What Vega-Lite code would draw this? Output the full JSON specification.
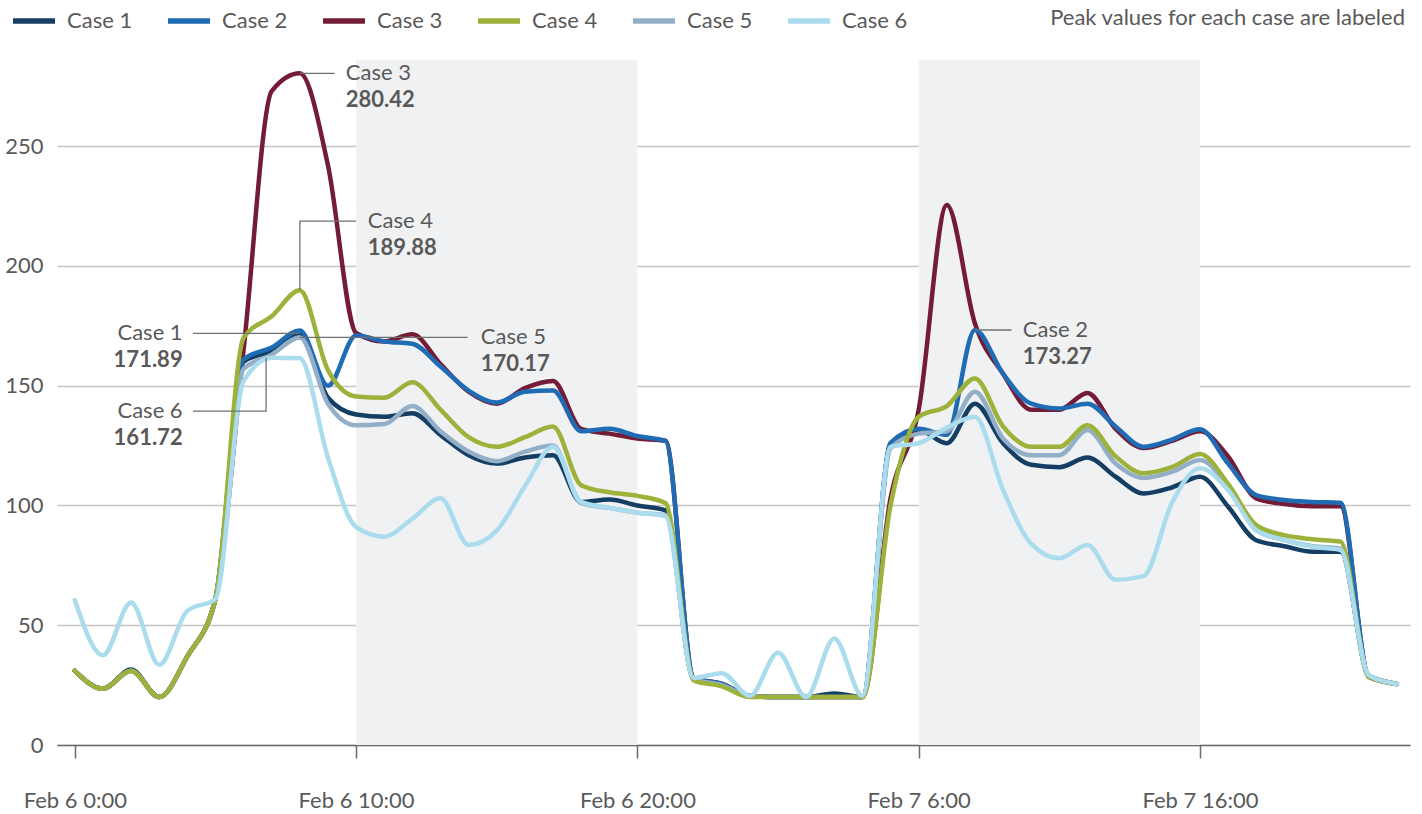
{
"$schema":"https://vega.github.io/schema/vega-lite/v6.json",
"autosize":{"type":"none"},
"width":1353,"height":685,
"padding":{"left":57,"top":60,"right":12,"bottom":69},
"background":"white",
"title":{"text":"Peak values for each case are labeled","anchor":"end","frame":"group","orient":"top","offset":-33,"dx":-5,"font":"Lato","fontSize":22,"fontWeight":"normal","color":"#595959"},
"config":{"view":{"stroke":null},"font":"Lato"},
"datasets":{
"bands":[{"s":"2023-02-06T10:00","e":"2023-02-06T20:00"},{"s":"2023-02-07T06:00","e":"2023-02-07T16:00"}],
"leaders":[
{"g":"c3","o":0,"t":"2023-02-06T08:00","v":280.42},{"g":"c3","o":1,"t":"2023-02-06T09:14","v":280.42},
{"g":"c4","o":0,"t":"2023-02-06T08:00","v":189.88},{"g":"c4","o":1,"t":"2023-02-06T08:00","v":218.7},{"g":"c4","o":2,"t":"2023-02-06T10:00","v":218.7},
{"g":"c1","o":0,"t":"2023-02-06T08:00","v":171.89},{"g":"c1","o":1,"t":"2023-02-06T04:12","v":171.89},
{"g":"c5","o":0,"t":"2023-02-06T08:00","v":170.17},{"g":"c5","o":1,"t":"2023-02-06T13:58","v":170.17},
{"g":"c6","o":0,"t":"2023-02-06T06:48","v":161.72},{"g":"c6","o":1,"t":"2023-02-06T06:48","v":139.4},{"g":"c6","o":2,"t":"2023-02-06T04:12","v":139.4},
{"g":"c2","o":0,"t":"2023-02-07T08:00","v":173.27},{"g":"c2","o":1,"t":"2023-02-07T09:18","v":173.27}
],
"labels":[
{"name":"Case 3","val":"280.42","t":"2023-02-06T09:38","v":280.42,"side":"L"},
{"name":"Case 4","val":"189.88","t":"2023-02-06T10:25","v":218.7,"side":"L"},
{"name":"Case 5","val":"170.17","t":"2023-02-06T14:26","v":170.17,"side":"L"},
{"name":"Case 2","val":"173.27","t":"2023-02-07T09:42","v":173.27,"side":"L"},
{"name":"Case 1","val":"171.89","t":"2023-02-06T03:50","v":171.89,"side":"R"},
{"name":"Case 6","val":"161.72","t":"2023-02-06T03:50","v":139.4,"side":"R"}
],
"series":[
{"t":"2023-02-06T00:00","c":"Case 1","v":31},{"t":"2023-02-06T01:00","c":"Case 1","v":23.5},{"t":"2023-02-06T02:00","c":"Case 1","v":31.5},{"t":"2023-02-06T03:00","c":"Case 1","v":20},{"t":"2023-02-06T04:00","c":"Case 1","v":37},{"t":"2023-02-06T05:00","c":"Case 1","v":61},{"t":"2023-02-06T06:00","c":"Case 1","v":160},{"t":"2023-02-06T07:00","c":"Case 1","v":164.5},{"t":"2023-02-06T08:00","c":"Case 1","v":171.89},{"t":"2023-02-06T09:00","c":"Case 1","v":145},{"t":"2023-02-06T10:00","c":"Case 1","v":138},{"t":"2023-02-06T11:00","c":"Case 1","v":137},{"t":"2023-02-06T12:00","c":"Case 1","v":138.5},{"t":"2023-02-06T13:00","c":"Case 1","v":129.5},{"t":"2023-02-06T14:00","c":"Case 1","v":121},{"t":"2023-02-06T15:00","c":"Case 1","v":117.5},{"t":"2023-02-06T16:00","c":"Case 1","v":120},{"t":"2023-02-06T17:00","c":"Case 1","v":121},{"t":"2023-02-06T18:00","c":"Case 1","v":101.5},{"t":"2023-02-06T19:00","c":"Case 1","v":102.5},{"t":"2023-02-06T20:00","c":"Case 1","v":100},{"t":"2023-02-06T21:00","c":"Case 1","v":98},{"t":"2023-02-06T22:00","c":"Case 1","v":27.5},{"t":"2023-02-06T23:00","c":"Case 1","v":25.5},
{"t":"2023-02-07T00:00","c":"Case 1","v":20.5},{"t":"2023-02-07T01:00","c":"Case 1","v":20},{"t":"2023-02-07T02:00","c":"Case 1","v":20},{"t":"2023-02-07T03:00","c":"Case 1","v":21.5},{"t":"2023-02-07T04:00","c":"Case 1","v":20},{"t":"2023-02-07T05:00","c":"Case 1","v":126},{"t":"2023-02-07T06:00","c":"Case 1","v":131.5},{"t":"2023-02-07T07:00","c":"Case 1","v":126},{"t":"2023-02-07T08:00","c":"Case 1","v":142.5},{"t":"2023-02-07T09:00","c":"Case 1","v":126},{"t":"2023-02-07T10:00","c":"Case 1","v":117},{"t":"2023-02-07T11:00","c":"Case 1","v":116},{"t":"2023-02-07T12:00","c":"Case 1","v":120},{"t":"2023-02-07T13:00","c":"Case 1","v":112},{"t":"2023-02-07T14:00","c":"Case 1","v":105},{"t":"2023-02-07T15:00","c":"Case 1","v":107.5},{"t":"2023-02-07T16:00","c":"Case 1","v":112},{"t":"2023-02-07T17:00","c":"Case 1","v":99.5},{"t":"2023-02-07T18:00","c":"Case 1","v":85.5},{"t":"2023-02-07T19:00","c":"Case 1","v":83},{"t":"2023-02-07T20:00","c":"Case 1","v":80.7},{"t":"2023-02-07T21:00","c":"Case 1","v":80.7},{"t":"2023-02-07T22:00","c":"Case 1","v":29},{"t":"2023-02-07T23:00","c":"Case 1","v":25.5},
{"t":"2023-02-06T00:00","c":"Case 3","v":31},{"t":"2023-02-06T01:00","c":"Case 3","v":23.5},{"t":"2023-02-06T02:00","c":"Case 3","v":31},{"t":"2023-02-06T03:00","c":"Case 3","v":20},{"t":"2023-02-06T04:00","c":"Case 3","v":37},{"t":"2023-02-06T05:00","c":"Case 3","v":61},{"t":"2023-02-06T06:00","c":"Case 3","v":165},{"t":"2023-02-06T07:00","c":"Case 3","v":273},{"t":"2023-02-06T08:00","c":"Case 3","v":280.42},{"t":"2023-02-06T09:00","c":"Case 3","v":242},{"t":"2023-02-06T10:00","c":"Case 3","v":172},{"t":"2023-02-06T11:00","c":"Case 3","v":168.5},{"t":"2023-02-06T12:00","c":"Case 3","v":171.5},{"t":"2023-02-06T13:00","c":"Case 3","v":159},{"t":"2023-02-06T14:00","c":"Case 3","v":147.5},{"t":"2023-02-06T15:00","c":"Case 3","v":142.5},{"t":"2023-02-06T16:00","c":"Case 3","v":149},{"t":"2023-02-06T17:00","c":"Case 3","v":152},{"t":"2023-02-06T18:00","c":"Case 3","v":132},{"t":"2023-02-06T19:00","c":"Case 3","v":130},{"t":"2023-02-06T20:00","c":"Case 3","v":128},{"t":"2023-02-06T21:00","c":"Case 3","v":127},{"t":"2023-02-06T22:00","c":"Case 3","v":28},{"t":"2023-02-06T23:00","c":"Case 3","v":25.5},
{"t":"2023-02-07T00:00","c":"Case 3","v":20.5},{"t":"2023-02-07T01:00","c":"Case 3","v":20},{"t":"2023-02-07T02:00","c":"Case 3","v":20},{"t":"2023-02-07T03:00","c":"Case 3","v":20},{"t":"2023-02-07T04:00","c":"Case 3","v":20},{"t":"2023-02-07T05:00","c":"Case 3","v":103},{"t":"2023-02-07T06:00","c":"Case 3","v":140},{"t":"2023-02-07T07:00","c":"Case 3","v":225.5},{"t":"2023-02-07T08:00","c":"Case 3","v":176},{"t":"2023-02-07T09:00","c":"Case 3","v":155},{"t":"2023-02-07T10:00","c":"Case 3","v":140},{"t":"2023-02-07T11:00","c":"Case 3","v":140},{"t":"2023-02-07T12:00","c":"Case 3","v":147},{"t":"2023-02-07T13:00","c":"Case 3","v":132},{"t":"2023-02-07T14:00","c":"Case 3","v":124},{"t":"2023-02-07T15:00","c":"Case 3","v":127},{"t":"2023-02-07T16:00","c":"Case 3","v":131},{"t":"2023-02-07T17:00","c":"Case 3","v":120.5},{"t":"2023-02-07T18:00","c":"Case 3","v":103},{"t":"2023-02-07T19:00","c":"Case 3","v":100.6},{"t":"2023-02-07T20:00","c":"Case 3","v":99.7},{"t":"2023-02-07T21:00","c":"Case 3","v":99.7},{"t":"2023-02-07T22:00","c":"Case 3","v":28.5},{"t":"2023-02-07T23:00","c":"Case 3","v":25.5},
{"t":"2023-02-06T00:00","c":"Case 2","v":31},{"t":"2023-02-06T01:00","c":"Case 2","v":23.5},{"t":"2023-02-06T02:00","c":"Case 2","v":31},{"t":"2023-02-06T03:00","c":"Case 2","v":20},{"t":"2023-02-06T04:00","c":"Case 2","v":37},{"t":"2023-02-06T05:00","c":"Case 2","v":61},{"t":"2023-02-06T06:00","c":"Case 2","v":161},{"t":"2023-02-06T07:00","c":"Case 2","v":166},{"t":"2023-02-06T08:00","c":"Case 2","v":173.1},{"t":"2023-02-06T09:00","c":"Case 2","v":150},{"t":"2023-02-06T10:00","c":"Case 2","v":171},{"t":"2023-02-06T11:00","c":"Case 2","v":168.5},{"t":"2023-02-06T12:00","c":"Case 2","v":167.5},{"t":"2023-02-06T13:00","c":"Case 2","v":158},{"t":"2023-02-06T14:00","c":"Case 2","v":148},{"t":"2023-02-06T15:00","c":"Case 2","v":143},{"t":"2023-02-06T16:00","c":"Case 2","v":147.5},{"t":"2023-02-06T17:00","c":"Case 2","v":148},{"t":"2023-02-06T18:00","c":"Case 2","v":131},{"t":"2023-02-06T19:00","c":"Case 2","v":132},{"t":"2023-02-06T20:00","c":"Case 2","v":129},{"t":"2023-02-06T21:00","c":"Case 2","v":127},{"t":"2023-02-06T22:00","c":"Case 2","v":28},{"t":"2023-02-06T23:00","c":"Case 2","v":25.5},
{"t":"2023-02-07T00:00","c":"Case 2","v":20.5},{"t":"2023-02-07T01:00","c":"Case 2","v":20},{"t":"2023-02-07T02:00","c":"Case 2","v":20},{"t":"2023-02-07T03:00","c":"Case 2","v":20},{"t":"2023-02-07T04:00","c":"Case 2","v":20},{"t":"2023-02-07T05:00","c":"Case 2","v":126},{"t":"2023-02-07T06:00","c":"Case 2","v":132},{"t":"2023-02-07T07:00","c":"Case 2","v":129.5},{"t":"2023-02-07T08:00","c":"Case 2","v":173.27},{"t":"2023-02-07T09:00","c":"Case 2","v":155},{"t":"2023-02-07T10:00","c":"Case 2","v":142.5},{"t":"2023-02-07T11:00","c":"Case 2","v":140.5},{"t":"2023-02-07T12:00","c":"Case 2","v":142.5},{"t":"2023-02-07T13:00","c":"Case 2","v":133},{"t":"2023-02-07T14:00","c":"Case 2","v":124.5},{"t":"2023-02-07T15:00","c":"Case 2","v":127.5},{"t":"2023-02-07T16:00","c":"Case 2","v":131.8},{"t":"2023-02-07T17:00","c":"Case 2","v":117.5},{"t":"2023-02-07T18:00","c":"Case 2","v":104.3},{"t":"2023-02-07T19:00","c":"Case 2","v":102.3},{"t":"2023-02-07T20:00","c":"Case 2","v":101.5},{"t":"2023-02-07T21:00","c":"Case 2","v":101.1},{"t":"2023-02-07T22:00","c":"Case 2","v":28.5},{"t":"2023-02-07T23:00","c":"Case 2","v":25.5},
{"t":"2023-02-06T00:00","c":"Case 5","v":31},{"t":"2023-02-06T01:00","c":"Case 5","v":23.5},{"t":"2023-02-06T02:00","c":"Case 5","v":31},{"t":"2023-02-06T03:00","c":"Case 5","v":20},{"t":"2023-02-06T04:00","c":"Case 5","v":37},{"t":"2023-02-06T05:00","c":"Case 5","v":61},{"t":"2023-02-06T06:00","c":"Case 5","v":157},{"t":"2023-02-06T07:00","c":"Case 5","v":163},{"t":"2023-02-06T08:00","c":"Case 5","v":170.17},{"t":"2023-02-06T09:00","c":"Case 5","v":142.5},{"t":"2023-02-06T10:00","c":"Case 5","v":133.5},{"t":"2023-02-06T11:00","c":"Case 5","v":134},{"t":"2023-02-06T12:00","c":"Case 5","v":141.5},{"t":"2023-02-06T13:00","c":"Case 5","v":131},{"t":"2023-02-06T14:00","c":"Case 5","v":122.5},{"t":"2023-02-06T15:00","c":"Case 5","v":118.5},{"t":"2023-02-06T16:00","c":"Case 5","v":122.5},{"t":"2023-02-06T17:00","c":"Case 5","v":125},{"t":"2023-02-06T18:00","c":"Case 5","v":101},{"t":"2023-02-06T19:00","c":"Case 5","v":99},{"t":"2023-02-06T20:00","c":"Case 5","v":97},{"t":"2023-02-06T21:00","c":"Case 5","v":96},{"t":"2023-02-06T22:00","c":"Case 5","v":27.5},{"t":"2023-02-06T23:00","c":"Case 5","v":25},
{"t":"2023-02-07T00:00","c":"Case 5","v":20.5},{"t":"2023-02-07T01:00","c":"Case 5","v":20},{"t":"2023-02-07T02:00","c":"Case 5","v":20},{"t":"2023-02-07T03:00","c":"Case 5","v":20},{"t":"2023-02-07T04:00","c":"Case 5","v":20},{"t":"2023-02-07T05:00","c":"Case 5","v":124},{"t":"2023-02-07T06:00","c":"Case 5","v":130},{"t":"2023-02-07T07:00","c":"Case 5","v":131},{"t":"2023-02-07T08:00","c":"Case 5","v":147.5},{"t":"2023-02-07T09:00","c":"Case 5","v":128},{"t":"2023-02-07T10:00","c":"Case 5","v":121},{"t":"2023-02-07T11:00","c":"Case 5","v":121},{"t":"2023-02-07T12:00","c":"Case 5","v":131.5},{"t":"2023-02-07T13:00","c":"Case 5","v":117.5},{"t":"2023-02-07T14:00","c":"Case 5","v":111.5},{"t":"2023-02-07T15:00","c":"Case 5","v":114},{"t":"2023-02-07T16:00","c":"Case 5","v":119},{"t":"2023-02-07T17:00","c":"Case 5","v":108},{"t":"2023-02-07T18:00","c":"Case 5","v":89.7},{"t":"2023-02-07T19:00","c":"Case 5","v":85.6},{"t":"2023-02-07T20:00","c":"Case 5","v":83},{"t":"2023-02-07T21:00","c":"Case 5","v":82},{"t":"2023-02-07T22:00","c":"Case 5","v":29},{"t":"2023-02-07T23:00","c":"Case 5","v":25.5},
{"t":"2023-02-06T00:00","c":"Case 4","v":31},{"t":"2023-02-06T01:00","c":"Case 4","v":23.5},{"t":"2023-02-06T02:00","c":"Case 4","v":31},{"t":"2023-02-06T03:00","c":"Case 4","v":20},{"t":"2023-02-06T04:00","c":"Case 4","v":37},{"t":"2023-02-06T05:00","c":"Case 4","v":61},{"t":"2023-02-06T06:00","c":"Case 4","v":170},{"t":"2023-02-06T07:00","c":"Case 4","v":179},{"t":"2023-02-06T08:00","c":"Case 4","v":189.88},{"t":"2023-02-06T09:00","c":"Case 4","v":156.5},{"t":"2023-02-06T10:00","c":"Case 4","v":145.5},{"t":"2023-02-06T11:00","c":"Case 4","v":145},{"t":"2023-02-06T12:00","c":"Case 4","v":151.5},{"t":"2023-02-06T13:00","c":"Case 4","v":140},{"t":"2023-02-06T14:00","c":"Case 4","v":128.5},{"t":"2023-02-06T15:00","c":"Case 4","v":124.5},{"t":"2023-02-06T16:00","c":"Case 4","v":128.5},{"t":"2023-02-06T17:00","c":"Case 4","v":133},{"t":"2023-02-06T18:00","c":"Case 4","v":108.5},{"t":"2023-02-06T19:00","c":"Case 4","v":105.5},{"t":"2023-02-06T20:00","c":"Case 4","v":104},{"t":"2023-02-06T21:00","c":"Case 4","v":101},{"t":"2023-02-06T22:00","c":"Case 4","v":27},{"t":"2023-02-06T23:00","c":"Case 4","v":24.5},
{"t":"2023-02-07T00:00","c":"Case 4","v":20},{"t":"2023-02-07T01:00","c":"Case 4","v":20},{"t":"2023-02-07T02:00","c":"Case 4","v":20},{"t":"2023-02-07T03:00","c":"Case 4","v":20},{"t":"2023-02-07T04:00","c":"Case 4","v":20},{"t":"2023-02-07T05:00","c":"Case 4","v":100},{"t":"2023-02-07T06:00","c":"Case 4","v":137},{"t":"2023-02-07T07:00","c":"Case 4","v":141.5},{"t":"2023-02-07T08:00","c":"Case 4","v":153},{"t":"2023-02-07T09:00","c":"Case 4","v":133},{"t":"2023-02-07T10:00","c":"Case 4","v":124.5},{"t":"2023-02-07T11:00","c":"Case 4","v":124.5},{"t":"2023-02-07T12:00","c":"Case 4","v":133.5},{"t":"2023-02-07T13:00","c":"Case 4","v":120.5},{"t":"2023-02-07T14:00","c":"Case 4","v":113.5},{"t":"2023-02-07T15:00","c":"Case 4","v":116},{"t":"2023-02-07T16:00","c":"Case 4","v":121.5},{"t":"2023-02-07T17:00","c":"Case 4","v":109},{"t":"2023-02-07T18:00","c":"Case 4","v":91.8},{"t":"2023-02-07T19:00","c":"Case 4","v":87.6},{"t":"2023-02-07T20:00","c":"Case 4","v":85.9},{"t":"2023-02-07T21:00","c":"Case 4","v":84.9},{"t":"2023-02-07T22:00","c":"Case 4","v":28.5},{"t":"2023-02-07T23:00","c":"Case 4","v":25.5},
{"t":"2023-02-06T00:00","c":"Case 6","v":60.5},{"t":"2023-02-06T01:00","c":"Case 6","v":37.5},{"t":"2023-02-06T02:00","c":"Case 6","v":59.5},{"t":"2023-02-06T03:00","c":"Case 6","v":33.5},{"t":"2023-02-06T04:00","c":"Case 6","v":56},{"t":"2023-02-06T05:00","c":"Case 6","v":61},{"t":"2023-02-06T06:00","c":"Case 6","v":152},{"t":"2023-02-06T07:00","c":"Case 6","v":161.72},{"t":"2023-02-06T08:00","c":"Case 6","v":161.5},{"t":"2023-02-06T09:00","c":"Case 6","v":120},{"t":"2023-02-06T10:00","c":"Case 6","v":91},{"t":"2023-02-06T11:00","c":"Case 6","v":87},{"t":"2023-02-06T12:00","c":"Case 6","v":94.5},{"t":"2023-02-06T13:00","c":"Case 6","v":103},{"t":"2023-02-06T14:00","c":"Case 6","v":83.5},{"t":"2023-02-06T15:00","c":"Case 6","v":89.5},{"t":"2023-02-06T16:00","c":"Case 6","v":108},{"t":"2023-02-06T17:00","c":"Case 6","v":124.5},{"t":"2023-02-06T18:00","c":"Case 6","v":101.5},{"t":"2023-02-06T19:00","c":"Case 6","v":99},{"t":"2023-02-06T20:00","c":"Case 6","v":97},{"t":"2023-02-06T21:00","c":"Case 6","v":95.5},{"t":"2023-02-06T22:00","c":"Case 6","v":28},{"t":"2023-02-06T23:00","c":"Case 6","v":30},
{"t":"2023-02-07T00:00","c":"Case 6","v":20.5},{"t":"2023-02-07T01:00","c":"Case 6","v":38.5},{"t":"2023-02-07T02:00","c":"Case 6","v":20},{"t":"2023-02-07T03:00","c":"Case 6","v":44.5},{"t":"2023-02-07T04:00","c":"Case 6","v":20.5},{"t":"2023-02-07T05:00","c":"Case 6","v":124.5},{"t":"2023-02-07T06:00","c":"Case 6","v":126},{"t":"2023-02-07T07:00","c":"Case 6","v":132.5},{"t":"2023-02-07T08:00","c":"Case 6","v":137},{"t":"2023-02-07T09:00","c":"Case 6","v":106.5},{"t":"2023-02-07T10:00","c":"Case 6","v":84},{"t":"2023-02-07T11:00","c":"Case 6","v":78},{"t":"2023-02-07T12:00","c":"Case 6","v":83.5},{"t":"2023-02-07T13:00","c":"Case 6","v":69},{"t":"2023-02-07T14:00","c":"Case 6","v":70.5},{"t":"2023-02-07T15:00","c":"Case 6","v":101},{"t":"2023-02-07T16:00","c":"Case 6","v":115.5},{"t":"2023-02-07T17:00","c":"Case 6","v":106.5},{"t":"2023-02-07T18:00","c":"Case 6","v":89.7},{"t":"2023-02-07T19:00","c":"Case 6","v":85.6},{"t":"2023-02-07T20:00","c":"Case 6","v":82.8},{"t":"2023-02-07T21:00","c":"Case 6","v":81.4},{"t":"2023-02-07T22:00","c":"Case 6","v":29.2},{"t":"2023-02-07T23:00","c":"Case 6","v":25.5}
]
},
"layer":[
{"data":{"name":"bands"},"mark":{"type":"rect","color":"#f0f1f3"},
 "encoding":{"x":{"field":"s","type":"temporal","title":null},"x2":{"field":"e"}}},
{"data":{"name":"series"},"mark":{"type":"line","interpolate":"monotone","strokeWidth":4.5,"strokeCap":"round","strokeJoin":"round"},
 "encoding":{
  "x":{"field":"t","type":"temporal","title":null,
   "scale":{"domain":[{"year":2023,"month":2,"date":5,"hours":23,"minutes":22},{"year":2023,"month":2,"date":7,"hours":23,"minutes":28}]},
   "axis":{"values":[{"year":2023,"month":2,"date":6,"hours":0},{"year":2023,"month":2,"date":6,"hours":10},{"year":2023,"month":2,"date":6,"hours":20},{"year":2023,"month":2,"date":7,"hours":6},{"year":2023,"month":2,"date":7,"hours":16}],
    "format":"%b %-d %-H:%M","grid":false,"domainColor":"#6b6b6b","domainWidth":1.5,"tickColor":"#6b6b6b","tickWidth":1.5,"tickSize":13,"labelPadding":32,"labelFont":"Lato","labelFontSize":22,"labelColor":"#595959","labelFlush":false}},
  "y":{"field":"v","type":"quantitative","title":null,
   "scale":{"domain":[0,286],"nice":false},
   "axis":{"values":[0,50,100,150,200,250],"grid":true,"gridColor":"#c4c4c4","gridWidth":1.5,"domain":false,"ticks":false,"labelPadding":14,"labelFont":"Lato","labelFontSize":22,"labelColor":"#595959"}},
  "color":{"field":"c","type":"nominal",
   "scale":{"domain":["Case 1","Case 2","Case 3","Case 4","Case 5","Case 6"],"range":["#143e64","#1f6cb4","#741b35","#9db23a","#93afc8","#abdcee"]},
   "legend":{"orient":"none","legendX":-47,"legendY":-63,"direction":"horizontal","title":null,"symbolType":"stroke","symbolSize":1764,"symbolStrokeWidth":5.5,"labelFont":"Lato","labelFontSize":22,"labelColor":"#595959","labelOffset":9,"columnPadding":24}}
 }},
{"data":{"name":"leaders"},"mark":{"type":"line","color":"#707070","strokeWidth":1.3},
 "encoding":{"x":{"field":"t","type":"temporal","title":null},"y":{"field":"v","type":"quantitative","title":null},"detail":{"field":"g"},"order":{"field":"o"}}},
{"data":{"name":"labels"},"transform":[{"filter":"datum.side === 'L'"}],
 "layer":[
  {"mark":{"type":"text","align":"left","baseline":"middle","font":"Lato","fontSize":22,"color":"#595959"},"encoding":{"text":{"field":"name"}}},
  {"mark":{"type":"text","align":"left","baseline":"middle","font":"Lato","fontSize":22,"fontWeight":"bold","color":"#595959","dy":27},"encoding":{"text":{"field":"val"}}}
 ],
 "encoding":{"x":{"field":"t","type":"temporal","title":null},"y":{"field":"v","type":"quantitative","title":null}}},
{"data":{"name":"labels"},"transform":[{"filter":"datum.side === 'R'"}],
 "layer":[
  {"mark":{"type":"text","align":"right","baseline":"middle","font":"Lato","fontSize":22,"color":"#595959"},"encoding":{"text":{"field":"name"}}},
  {"mark":{"type":"text","align":"right","baseline":"middle","font":"Lato","fontSize":22,"fontWeight":"bold","color":"#595959","dy":27},"encoding":{"text":{"field":"val"}}}
 ],
 "encoding":{"x":{"field":"t","type":"temporal","title":null},"y":{"field":"v","type":"quantitative","title":null}}}
]
}
